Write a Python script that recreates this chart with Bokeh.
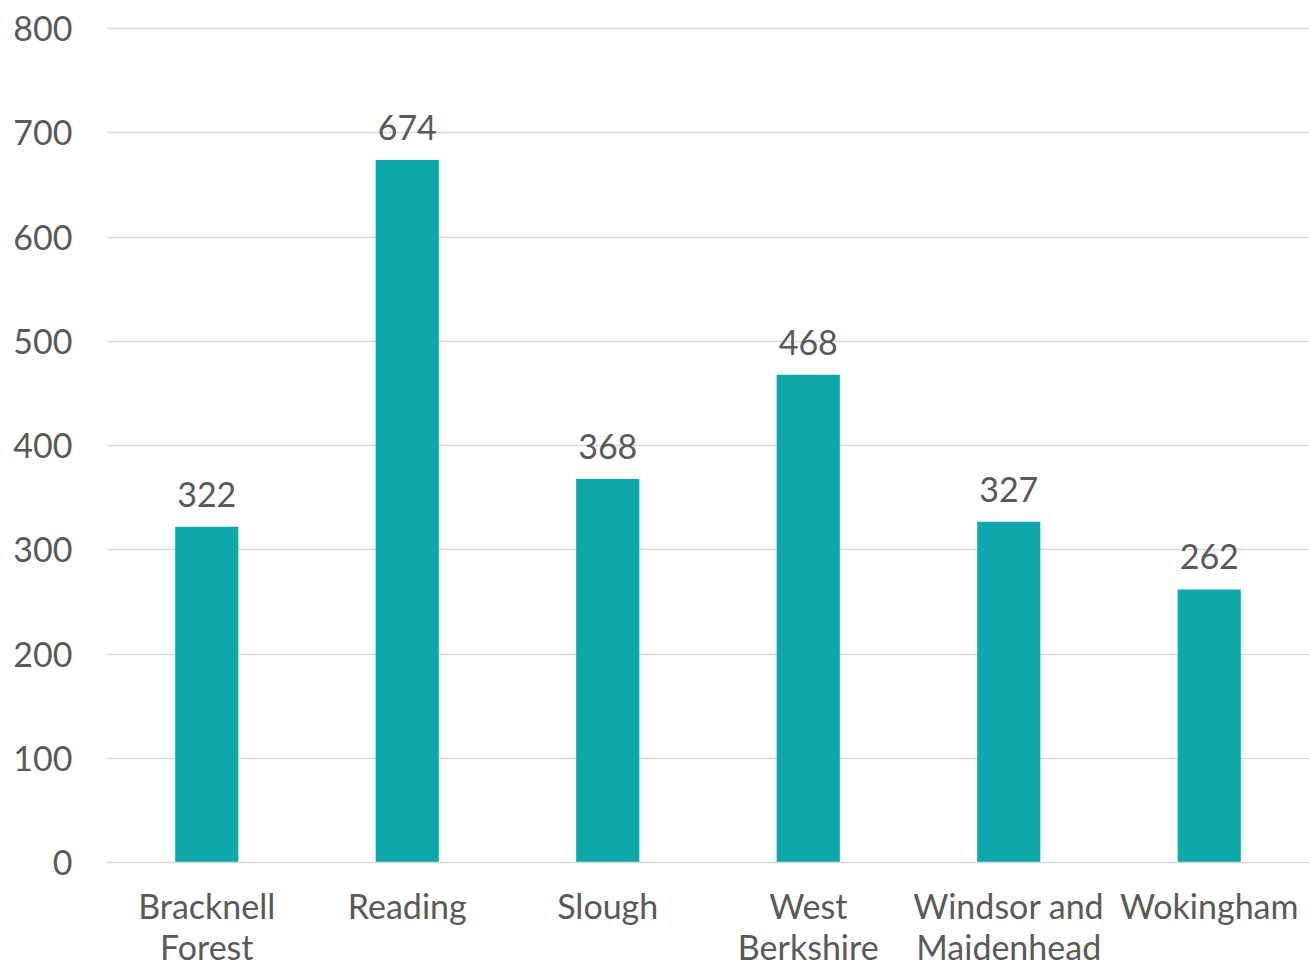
from bokeh.plotting import figure
from bokeh.models import ColumnDataSource, FactorRange, FixedTicker, Range1d
from bokeh.embed import file_html
from bokeh.resources import INLINE
from bokeh.core.properties import value

# Data
areas = ["Bracknell\nForest", "Reading", "Slough", "West\nBerkshire",
         "Windsor and\nMaidenhead", "Wokingham"]
counts = [322, 674, 368, 468, 327, 262]
y_ticks = [0, 100, 200, 300, 400, 500, 600, 700, 800]

BAR = "#0FA7A9"
TXT = "#595959"
GRID = "#D9D9D9"
FONT = "Lato"

src = ColumnDataSource(dict(area=areas, count=counts,
                            label=[str(c) for c in counts]))

p = figure(x_range=FactorRange(*areas, range_padding=0),
           y_range=Range1d(0, 802),
           width=1309, height=970,
           output_backend="svg", toolbar_location=None,
           min_border_left=106, min_border_right=0,
           min_border_top=26, min_border_bottom=108)

p.vbar(x="area", top="count", width=0.315, source=src,
       fill_color=BAR, line_color=None)

p.text(x="area", y="count", text="label", source=src,
       text_align="center", text_baseline="bottom", y_offset=-20,
       text_font=value(FONT), text_font_size="34px", text_color=TXT)

p.outline_line_color = None
p.background_fill_color = "white"
p.border_fill_color = "white"

p.xgrid.grid_line_color = None
p.ygrid.grid_line_color = GRID
p.ygrid.grid_line_width = 1.5
p.yaxis.ticker = FixedTicker(ticks=y_ticks)

for ax in (p.xaxis, p.yaxis):
    ax.major_tick_line_color = None
    ax.minor_tick_line_color = None
    ax.major_label_text_font = FONT
    ax.major_label_text_font_size = "34px"
    ax.major_label_text_color = TXT

p.yaxis.axis_line_color = None
p.yaxis.major_label_standoff = 28
p.xaxis.axis_line_color = GRID
p.xaxis.axis_line_width = 1.5
p.xaxis.major_label_standoff = 16
p.xaxis.major_label_text_line_height = 1.0

open("out.html", "w").write(file_html(p, INLINE))
